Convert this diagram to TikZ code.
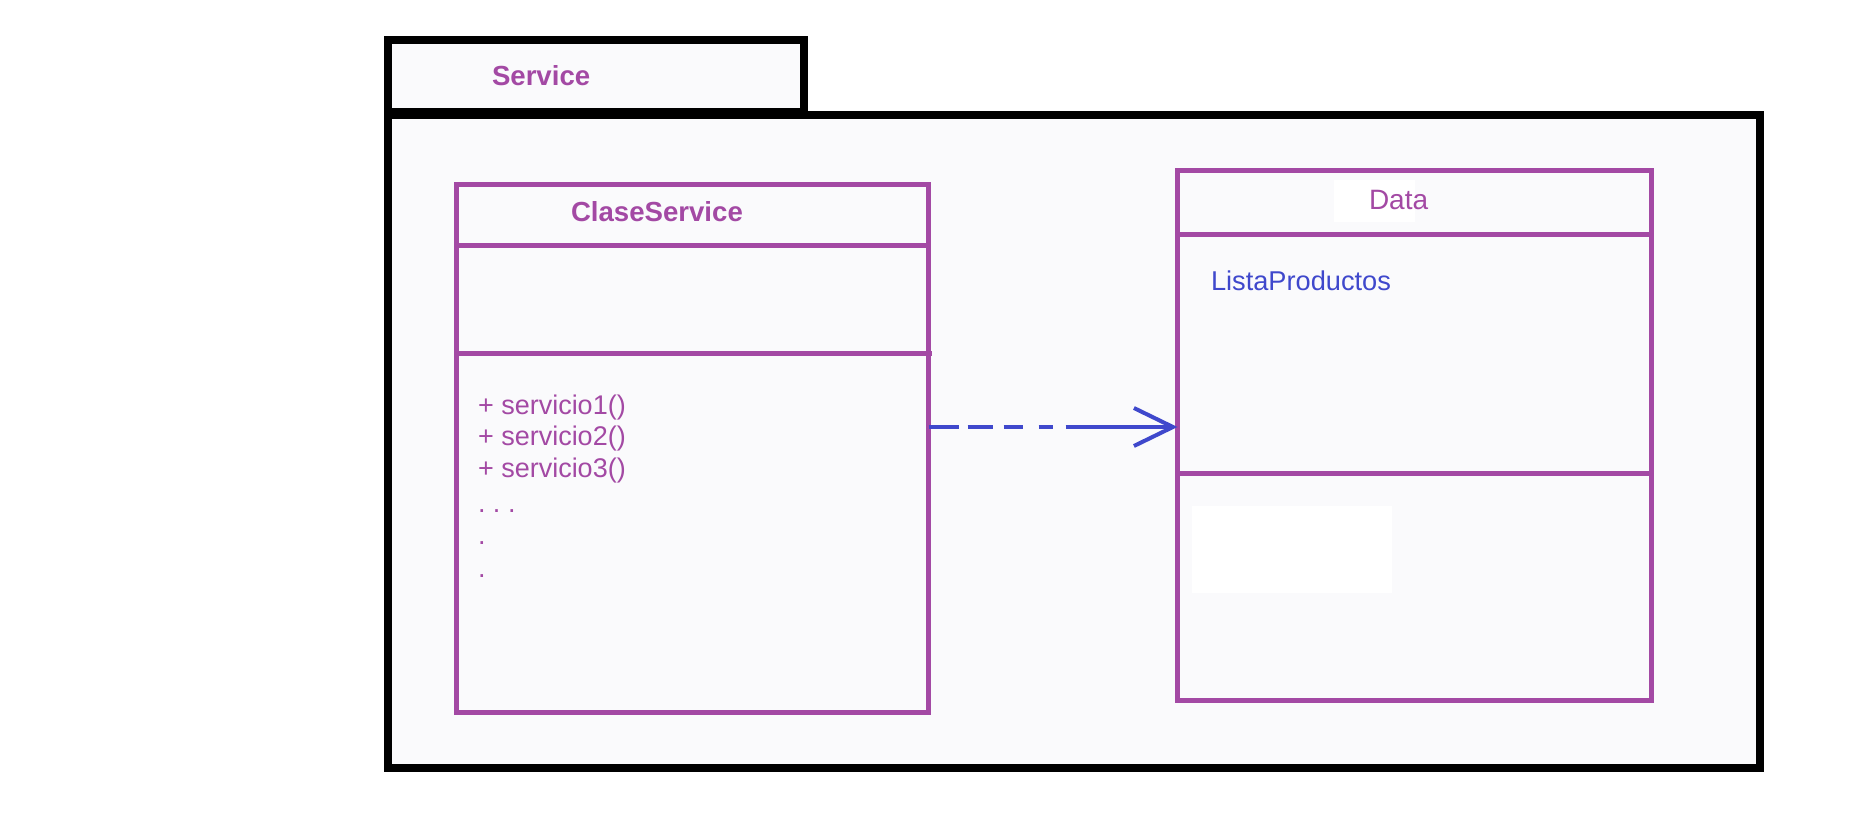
\documentclass[tikz,border=0pt]{standalone}
\usepackage{fontspec}
\setmainfont{Liberation Sans}
\usetikzlibrary{arrows.meta,positioning}
\definecolor{umlpurple}{HTML}{A349A4}
\definecolor{umlblue}{HTML}{3F48CC}
\definecolor{boxfill}{HTML}{FAFAFC}
\tikzset{
    every node/.style={inner sep=0pt, outer sep=0pt},
    pkg box/.style={draw=black, line width=4pt, fill=boxfill, anchor=north west},
    class box/.style={draw=umlpurple, line width=2.5pt, fill=boxfill, anchor=north west},
    class line/.style={draw=umlpurple, line width=2.5pt},
    title text/.style={font=\bfseries\fontsize{13.8}{16}\selectfont, text=umlpurple, anchor=base west},
    member text/.style={font=\fontsize{13.5}{15}\selectfont, text=umlpurple, anchor=base west}
}

\begin{document}
\begin{tikzpicture}[
            x = 0.5pt, y = -0.5pt, % one unit = one pixel of the sketch
            line join = miter
        ]
        \useasboundingbox (0,0) rectangle (1856,833);

        % package with its tab
        \node[pkg box, minimum width=686pt, minimum height=326.5pt] (pkg) at (388,115) {};
        \node[pkg box, minimum width=208pt, minimum height=36pt] (tab) at (388,40) {};
        \node[title text] (pkgname) at (492,86) {Service};

        % class on the left
        \node[class box, minimum width=236.25pt, minimum height=263.75pt] (cs) at (456,184.5) {};
        \draw[class line] (cs.west |- 0,246) -- (cs.east |- 0,246);
        \draw[class line] (cs.west |- 0,354) -- (932,354);
        \node[title text] (csname) at (571,222) {ClaseService};
        \node[member text] (m1) at (478,415) {+ servicio1()};
        \node[member text] (m2) at (478,446) {+ servicio2()};
        \node[member text] (m3) at (478,478) {+ servicio3()};
        \node[member text] (m4) at (478,512) {.\ .\ .};
        \node[member text] (m5) at (478,545) {.};
        \node[member text] (m6) at (478,577) {.};

        % class on the right
        \node[class box, minimum width=237pt, minimum height=265pt] (data) at (1177.5,170.5) {};
        \draw[class line] (data.west |- 0,234.5) -- (data.east |- 0,234.5);
        \draw[class line] (data.west |- 0,474) -- (1654,474);
        \fill[white] (1334,180) rectangle (1415,222);
        \fill[white] (1192,506) rectangle (1392,593);
        \node[member text, font=\fontsize{14}{16}\selectfont] (dataname) at (1369,210) {Data};
        \node[member text, font=\fontsize{13.6}{15}\selectfont, text=umlblue] (lista) at (1211,291) {ListaProductos};

        % dependency
        \coordinate (from) at (cs.east |- 0,427);
        \coordinate (to) at (data.west |- 0,427);
        \draw[umlblue, line width=2pt,
              dash pattern=on 15pt off 4.5pt on 12.5pt off 5.5pt on 9.5pt off 8pt on 7pt off 6.5pt on 200pt,
              -{Straight Barb[length=19.5pt, width=19pt, line width=2pt]}] (from) -- (to);

\end{tikzpicture}
\end{document}
